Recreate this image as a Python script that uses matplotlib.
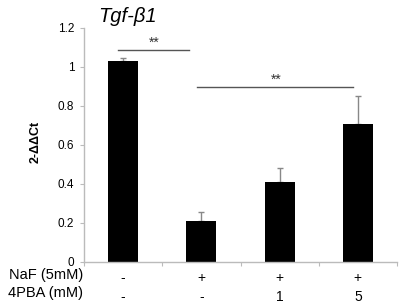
import matplotlib.pyplot as plt
import numpy as np

# data
means = [1.03, 0.209, 0.41, 0.704]
errs = [0.015, 0.047, 0.072, 0.146]
naf = ['-', '+', '+', '+']
pba = ['-', '-', '1', '5']
yticks = [0, 0.2, 0.4, 0.6, 0.8, 1, 1.2]
ytick_labels = ['0', '0.2', '0.4', '0.6', '0.8', '1', '1.2']

plt.rcParams['font.family'] = ['Liberation Sans', 'DejaVu Sans']

fig = plt.figure(figsize=(4, 3.04), dpi=100)
ax = fig.add_axes([0.21, 0.139, 0.7825, 0.77])

x = np.arange(len(means))
ax.bar(x, means, width=0.385, color='black', zorder=2)
ax.errorbar(x, means, yerr=[np.zeros(len(errs)), errs], fmt='none',
            ecolor='#888888', elinewidth=1, capsize=2, capthick=1, zorder=1)

ax.set_xlim(-0.5, 3.5)
ax.set_ylim(0, 1.2)
ax.set_yticks(yticks)
ax.set_yticklabels(ytick_labels, fontsize=8.5)
ax.set_xticks(np.arange(-0.5, 4, 1))
ax.set_xticklabels([])
ax.tick_params(axis='x', length=3, color='#bbbbbb', direction='out')
ax.tick_params(axis='y', length=3, color='#bbbbbb', direction='out', pad=4)
for s in ['top', 'right']:
    ax.spines[s].set_visible(False)
for s in ['left', 'bottom']:
    ax.spines[s].set_color('#bbbbbb')
    ax.spines[s].set_linewidth(1)

ax.set_ylabel('2-ΔΔCt', fontsize=9, fontweight='bold')
ax.yaxis.set_label_coords(-0.134, 0.51)
ax.set_title('Tgf-β1', fontsize=14.5, style='italic', x=0.14, pad=4)

# significance lines
ax.plot([-0.06, 0.84], [1.086, 1.086], color='#555555', lw=1)
ax.text(0.4, 1.088, '**', ha='center', va='bottom', fontsize=10, color='#333333')
ax.plot([0.95, 2.94], [0.894, 0.894], color='#555555', lw=1)
ax.text(1.95, 0.896, '**', ha='center', va='bottom', fontsize=10, color='#333333')

# treatment table below axes
for i in range(len(means)):
    ax.text(i, -0.085, naf[i], ha='center', va='center', fontsize=10)
    ax.text(i, -0.18, pba[i], ha='center', va='center', fontsize=10)
fig.text(83 / 400, 1 - 275 / 304, 'NaF (5mM)', ha='right', va='center', fontsize=10.5)
fig.text(83 / 400, 1 - 293 / 304, '4PBA (mM)', ha='right', va='center', fontsize=10.5)

fig.savefig('out.png', dpi=100)
